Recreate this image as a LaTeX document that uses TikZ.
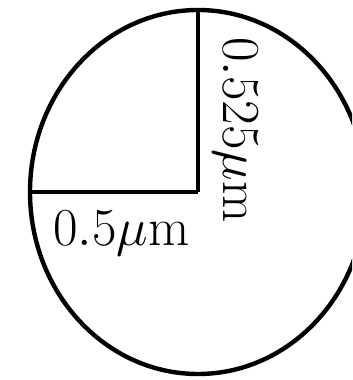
\RequirePackage{fix-cm}
\documentclass[tikz,border=0pt]{standalone}
\usepackage{amsmath}
\usepackage{tikz}
\usetikzlibrary{positioning}

\begin{document}
\begin{tikzpicture}[line width=0.11cm]
\clip (0,0) rectangle (8.8,9.5);
\useasboundingbox (0,0) rectangle (8.8,9.5);
\coordinate (c) at (4.95,4.7);
\coordinate (top) at (4.95,9.25);
\coordinate (lft) at (0.75,4.7);
\draw (c) ellipse [x radius=4.2cm,y radius=4.55cm];
\draw (c)--(top);
\draw (c)--(lft);
\node[rotate=-90,anchor=base west,inner sep=0pt,font=\fontsize{38}{44}\selectfont] (ry) at (5.58,8.62) {$0.525\mu\mathrm{m}$};
\node[anchor=base west,inner sep=0pt,font=\fontsize{38}{44}\selectfont] (rx) at (1.28,3.37) {$0.5\mu\mathrm{m}$};
\end{tikzpicture}
\end{document}
